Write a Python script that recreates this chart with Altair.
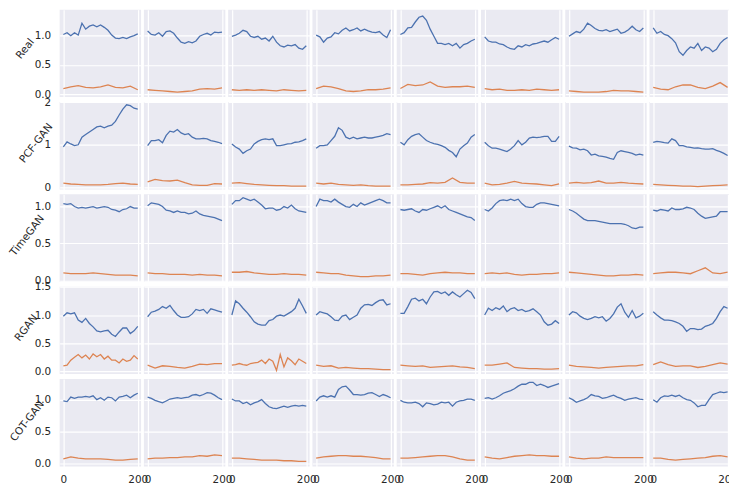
import altair as alt
import pandas as pd

# ---------------- data ----------------
T_MEAN = list(range(0, 201, 10))   # 21 sample times for the blue series
T_STD = list(range(0, 201, 20))    # 11 sample times for most orange series

MODELS = ["Real", "PCF-GAN", "TimeGAN", "RGAN", "COT-GAN"]

real_mean = [
    [1.01, 1.04, 0.99, 1.04, 1.0, 1.2, 1.1, 1.15, 1.17, 1.14, 1.17, 1.13, 1.08, 1.0, 0.95, 0.94, 0.96, 0.94, 0.97, 0.99, 1.02],
    [1.07, 1.01, 1.0, 1.04, 0.98, 1.06, 1.07, 1.03, 0.95, 0.88, 0.86, 0.89, 0.87, 0.9, 0.98, 1.01, 1.03, 1.0, 1.05, 1.04, 1.05],
    [0.98, 1.0, 1.03, 1.08, 1.06, 0.98, 0.96, 0.98, 0.93, 0.95, 0.9, 0.98, 0.88, 0.82, 0.8, 0.83, 0.82, 0.84, 0.78, 0.76, 0.82],
    [1.0, 0.97, 0.88, 0.95, 0.97, 1.04, 1.02, 1.08, 1.12, 1.07, 1.09, 1.12, 1.07, 1.1, 1.07, 1.05, 1.04, 1.06, 1.0, 0.96, 1.09],
    [1.01, 1.04, 1.12, 1.13, 1.22, 1.3, 1.32, 1.25, 1.1, 0.98, 0.86, 0.86, 0.84, 0.86, 0.82, 0.86, 0.78, 0.84, 0.86, 0.9, 0.93],
    [0.97, 0.9, 0.88, 0.88, 0.85, 0.84, 0.8, 0.77, 0.76, 0.82, 0.8, 0.84, 0.82, 0.85, 0.86, 0.88, 0.9, 0.88, 0.92, 0.96, 0.93],
    [0.98, 1.02, 1.06, 1.04, 1.1, 1.2, 1.16, 1.11, 1.08, 1.07, 1.09, 1.06, 1.08, 1.1, 1.03, 1.05, 1.09, 1.15, 1.09, 1.06, 1.12],
    [1.12, 1.03, 1.06, 1.01, 0.99, 0.94, 0.87, 0.72, 0.66, 0.74, 0.8, 0.78, 0.86, 0.74, 0.8, 0.78, 0.72, 0.76, 0.86, 0.92, 0.96],
]
real_std = [
    [0.10, 0.13, 0.15, 0.12, 0.11, 0.13, 0.16, 0.12, 0.11, 0.14, 0.08],
    [0.08, 0.07, 0.06, 0.05, 0.04, 0.05, 0.06, 0.09, 0.1, 0.09, 0.11],
    [0.08, 0.07, 0.08, 0.07, 0.08, 0.07, 0.06, 0.08, 0.07, 0.06, 0.07],
    [0.1, 0.14, 0.13, 0.1, 0.06, 0.05, 0.06, 0.08, 0.08, 0.09, 0.11],
    [0.1, 0.17, 0.15, 0.16, 0.21, 0.14, 0.12, 0.13, 0.13, 0.14, 0.12],
    [0.1, 0.08, 0.09, 0.07, 0.07, 0.08, 0.07, 0.09, 0.08, 0.07, 0.08],
    [0.06, 0.05, 0.04, 0.04, 0.04, 0.05, 0.07, 0.06, 0.06, 0.05, 0.04],
    [0.12, 0.09, 0.08, 0.13, 0.16, 0.16, 0.12, 0.1, 0.14, 0.2, 0.12],
]

pcf_mean = [
    [0.95, 1.07, 1.02, 0.98, 1.0, 1.18, 1.24, 1.3, 1.36, 1.42, 1.44, 1.4, 1.44, 1.46, 1.55, 1.7, 1.84, 1.94, 1.92, 1.86, 1.84],
    [0.98, 1.1, 1.1, 1.12, 1.05, 1.22, 1.32, 1.3, 1.36, 1.28, 1.24, 1.26, 1.18, 1.14, 1.14, 1.15, 1.14, 1.1, 1.08, 1.06, 1.03],
    [1.02, 0.95, 0.9, 0.8, 0.86, 0.9, 1.02, 1.08, 1.12, 1.14, 1.12, 1.14, 0.98, 0.98, 1.0, 1.02, 1.03, 1.06, 1.07, 1.1, 1.14],
    [0.92, 0.98, 0.98, 1.0, 1.1, 1.2, 1.4, 1.34, 1.18, 1.14, 1.18, 1.14, 1.16, 1.18, 1.16, 1.16, 1.18, 1.2, 1.22, 1.26, 1.24],
    [1.06, 1.0, 1.12, 1.2, 1.24, 1.26, 1.18, 1.1, 1.06, 1.03, 1.01, 0.98, 0.94, 0.87, 0.82, 0.72, 0.9, 0.98, 1.04, 1.18, 1.24],
    [1.06, 0.98, 0.92, 0.92, 0.9, 0.87, 0.84, 0.9, 0.98, 1.1, 1.0, 1.06, 1.16, 1.18, 1.17, 1.18, 1.2, 1.2, 1.08, 1.08, 1.2],
    [0.97, 0.93, 0.92, 0.88, 0.9, 0.86, 0.76, 0.78, 0.74, 0.73, 0.71, 0.68, 0.66, 0.82, 0.86, 0.84, 0.82, 0.8, 0.76, 0.78, 0.76],
    [1.06, 1.08, 1.07, 1.05, 1.04, 1.14, 1.1, 0.98, 0.98, 0.95, 0.94, 0.92, 0.93, 0.91, 0.9, 0.9, 0.91, 0.87, 0.84, 0.8, 0.75],
]
pcf_std = [
    [0.1, 0.08, 0.07, 0.06, 0.06, 0.06, 0.07, 0.09, 0.1, 0.08, 0.07],
    [0.13, 0.19, 0.16, 0.15, 0.17, 0.11, 0.06, 0.05, 0.05, 0.09, 0.08],
    [0.1, 0.11, 0.09, 0.07, 0.06, 0.05, 0.04, 0.04, 0.03, 0.03, 0.03],
    [0.1, 0.08, 0.1, 0.07, 0.06, 0.05, 0.06, 0.04, 0.03, 0.03, 0.03],
    [0.06, 0.06, 0.07, 0.08, 0.11, 0.1, 0.12, 0.22, 0.12, 0.1, 0.1],
    [0.1, 0.06, 0.07, 0.1, 0.14, 0.1, 0.09, 0.08, 0.06, 0.04, 0.08],
    [0.1, 0.12, 0.1, 0.11, 0.15, 0.1, 0.1, 0.12, 0.1, 0.09, 0.08],
    [0.07, 0.06, 0.05, 0.04, 0.03, 0.03, 0.02, 0.03, 0.04, 0.05, 0.06],
]

timegan_mean = [
    [1.04, 1.03, 1.04, 1.0, 0.98, 0.99, 0.98, 0.99, 1.0, 0.98, 0.99, 1.0, 0.99, 0.96, 0.95, 0.93, 0.96, 0.97, 1.0, 0.98, 0.98],
    [1.01, 1.05, 1.04, 1.03, 1.0, 0.95, 0.94, 0.92, 0.94, 0.92, 0.92, 0.9, 0.91, 0.94, 0.9, 0.88, 0.87, 0.86, 0.85, 0.83, 0.81],
    [1.03, 1.08, 1.08, 1.12, 1.1, 1.08, 1.1, 1.06, 1.02, 0.97, 0.98, 0.98, 0.95, 0.96, 1.0, 0.98, 1.02, 0.97, 0.94, 0.93, 0.92],
    [1.0, 1.1, 1.08, 1.08, 1.06, 1.1, 1.06, 1.03, 1.0, 0.99, 1.03, 1.0, 1.05, 1.02, 1.04, 1.06, 1.08, 1.1, 1.08, 1.05, 1.05],
    [0.96, 0.95, 0.96, 0.97, 0.94, 0.92, 0.96, 0.95, 0.97, 0.99, 1.01, 0.98, 1.01, 0.96, 0.94, 0.92, 0.9, 0.88, 0.86, 0.85, 0.81],
    [0.96, 0.94, 0.98, 1.04, 1.08, 1.09, 1.08, 1.1, 1.08, 1.1, 1.04, 1.0, 0.99, 0.99, 1.03, 1.05, 1.05, 1.04, 1.03, 1.02, 1.01],
    [0.96, 0.94, 0.91, 0.87, 0.83, 0.81, 0.81, 0.81, 0.8, 0.79, 0.78, 0.77, 0.77, 0.77, 0.77, 0.76, 0.74, 0.71, 0.7, 0.72, 0.72],
    [0.95, 0.94, 0.96, 0.95, 0.94, 0.98, 0.96, 0.96, 0.97, 0.99, 0.98, 0.96, 0.91, 0.87, 0.84, 0.85, 0.86, 0.87, 0.93, 0.93, 0.93],
]
timegan_std = [
    [0.1, 0.09, 0.09, 0.09, 0.1, 0.09, 0.08, 0.07, 0.07, 0.07, 0.06],
    [0.1, 0.09, 0.09, 0.08, 0.08, 0.08, 0.07, 0.08, 0.07, 0.07, 0.06],
    [0.11, 0.11, 0.12, 0.1, 0.09, 0.08, 0.08, 0.09, 0.08, 0.08, 0.07],
    [0.11, 0.1, 0.09, 0.09, 0.07, 0.06, 0.05, 0.05, 0.06, 0.06, 0.07],
    [0.09, 0.09, 0.08, 0.07, 0.09, 0.1, 0.11, 0.1, 0.1, 0.09, 0.09],
    [0.09, 0.1, 0.09, 0.1, 0.08, 0.07, 0.08, 0.08, 0.09, 0.09, 0.1],
    [0.11, 0.1, 0.09, 0.08, 0.07, 0.06, 0.06, 0.07, 0.07, 0.08, 0.07],
    [0.09, 0.1, 0.11, 0.11, 0.1, 0.09, 0.13, 0.17, 0.1, 0.09, 0.11],
]

rgan_mean = [
    [0.98, 1.04, 1.02, 1.04, 0.91, 0.87, 0.94, 0.85, 0.79, 0.72, 0.7, 0.72, 0.73, 0.66, 0.62, 0.7, 0.77, 0.77, 0.67, 0.72, 0.8],
    [0.97, 1.05, 1.07, 1.1, 1.15, 1.12, 1.17, 1.08, 1.0, 0.96, 0.96, 0.97, 1.02, 1.1, 1.08, 1.1, 1.03, 1.11, 1.09, 1.07, 1.05],
    [1.0, 1.25, 1.2, 1.12, 1.05, 0.97, 0.88, 0.84, 0.82, 0.82, 0.9, 0.92, 0.98, 1.0, 0.98, 1.02, 1.06, 1.12, 1.28, 1.16, 1.03],
    [1.0, 1.06, 1.04, 1.02, 0.97, 0.91, 0.9, 0.98, 1.0, 0.92, 0.96, 1.0, 1.12, 1.18, 1.19, 1.17, 1.22, 1.26, 1.27, 1.18, 1.2],
    [1.03, 1.03, 1.15, 1.28, 1.3, 1.25, 1.28, 1.2, 1.32, 1.41, 1.42, 1.38, 1.41, 1.35, 1.41, 1.36, 1.32, 1.38, 1.44, 1.4, 1.29],
    [1.0, 1.12, 1.08, 1.13, 1.1, 1.16, 1.06, 1.11, 1.13, 1.08, 1.1, 1.06, 1.08, 1.11, 1.06, 1.0, 0.88, 0.82, 0.84, 0.9, 0.85],
    [1.0, 1.06, 1.04, 0.98, 0.94, 0.92, 0.94, 0.97, 0.95, 0.97, 0.89, 0.94, 1.02, 1.14, 1.2, 1.05, 0.96, 1.08, 0.95, 0.98, 1.03],
    [1.06, 1.0, 0.95, 0.91, 0.91, 0.9, 0.88, 0.85, 0.8, 0.71, 0.76, 0.76, 0.74, 0.75, 0.8, 0.82, 0.85, 0.94, 1.06, 1.15, 1.12],
]
rgan_std = [
    [0.1, 0.11, 0.2, 0.25, 0.3, 0.24, 0.29, 0.22, 0.31, 0.26, 0.3, 0.22, 0.27, 0.2, 0.2, 0.15, 0.22, 0.18, 0.2, 0.28, 0.22],
    [0.11, 0.06, 0.1, 0.09, 0.07, 0.06, 0.09, 0.13, 0.12, 0.14, 0.14],
    [0.11, 0.12, 0.14, 0.12, 0.11, 0.14, 0.15, 0.16, 0.2, 0.14, 0.22, 0.18, 0.02, 0.3, 0.08, 0.24, 0.19, 0.12, 0.22, 0.18, 0.14],
    [0.11, 0.09, 0.1, 0.06, 0.07, 0.06, 0.05, 0.05, 0.04, 0.03, 0.03],
    [0.11, 0.1, 0.09, 0.1, 0.07, 0.08, 0.09, 0.1, 0.08, 0.07, 0.05],
    [0.11, 0.11, 0.13, 0.15, 0.07, 0.06, 0.05, 0.05, 0.04, 0.04, 0.05],
    [0.11, 0.09, 0.08, 0.07, 0.06, 0.07, 0.08, 0.09, 0.1, 0.1, 0.12],
    [0.12, 0.17, 0.12, 0.09, 0.1, 0.1, 0.07, 0.09, 0.12, 0.15, 0.13],
]

cot_mean = [
    [0.98, 0.97, 1.04, 1.02, 1.04, 1.04, 1.05, 1.04, 1.06, 1.0, 1.03, 0.99, 1.04, 1.03, 0.98, 1.04, 1.05, 1.07, 1.03, 1.07, 1.1],
    [1.04, 1.02, 0.99, 0.97, 0.95, 0.98, 1.01, 1.02, 1.03, 1.02, 1.03, 1.04, 1.07, 1.08, 1.06, 1.08, 1.11, 1.1, 1.07, 1.03, 1.0],
    [1.01, 0.98, 0.98, 0.94, 0.96, 0.92, 0.95, 0.97, 1.0, 0.94, 0.89, 0.87, 0.86, 0.88, 0.9, 0.88, 0.9, 0.91, 0.9, 0.91, 0.9],
    [0.98, 1.04, 1.06, 1.04, 1.06, 1.04, 1.16, 1.2, 1.21, 1.15, 1.08, 1.08, 1.07, 1.08, 1.1, 1.11, 1.08, 1.05, 1.08, 1.06, 1.03],
    [0.99, 0.96, 0.95, 0.95, 0.96, 0.94, 0.89, 0.95, 0.94, 0.92, 0.93, 0.96, 0.95, 0.96, 0.9, 0.96, 0.98, 0.99, 1.01, 1.01, 0.99],
    [1.02, 1.03, 1.01, 1.03, 1.06, 1.1, 1.12, 1.14, 1.17, 1.21, 1.24, 1.24, 1.27, 1.27, 1.22, 1.24, 1.22, 1.19, 1.21, 1.23, 1.25],
    [1.03, 1.0, 0.96, 0.98, 1.0, 1.03, 1.08, 1.06, 1.05, 1.02, 1.03, 1.05, 1.07, 1.04, 1.02, 0.99, 1.01, 1.02, 1.03, 1.01, 1.0],
    [1.0, 0.96, 1.03, 1.06, 1.05, 1.07, 1.05, 1.07, 1.03, 1.0, 0.99, 0.95, 0.89, 0.91, 0.91, 1.0, 1.08, 1.1, 1.12, 1.11, 1.12],
]
cot_std = [
    [0.08, 0.11, 0.09, 0.08, 0.08, 0.08, 0.07, 0.06, 0.06, 0.07, 0.08],
    [0.08, 0.09, 0.09, 0.1, 0.1, 0.11, 0.11, 0.13, 0.12, 0.14, 0.13],
    [0.09, 0.09, 0.08, 0.07, 0.06, 0.06, 0.06, 0.05, 0.05, 0.04, 0.04],
    [0.09, 0.11, 0.12, 0.13, 0.13, 0.12, 0.12, 0.11, 0.1, 0.08, 0.08],
    [0.09, 0.09, 0.1, 0.11, 0.12, 0.13, 0.13, 0.11, 0.08, 0.06, 0.06],
    [0.11, 0.09, 0.08, 0.1, 0.12, 0.13, 0.14, 0.13, 0.13, 0.12, 0.12],
    [0.11, 0.09, 0.08, 0.09, 0.09, 0.11, 0.1, 0.1, 0.1, 0.1, 0.1],
    [0.09, 0.09, 0.07, 0.06, 0.07, 0.08, 0.09, 0.1, 0.12, 0.13, 0.11],
]

ROW_DATA = {
    "Real": (real_mean, real_std),
    "PCF-GAN": (pcf_mean, pcf_std),
    "TimeGAN": (timegan_mean, timegan_std),
    "RGAN": (rgan_mean, rgan_std),
    "COT-GAN": (cot_mean, cot_std),
}

Y_TICKS = {
    "Real": [0.0, 0.5, 1.0],
    "PCF-GAN": [0, 1, 2],
    "TimeGAN": [0.0, 0.5, 1.0],
    "RGAN": [0.0, 0.5, 1.0, 1.5],
    "COT-GAN": [0.0, 0.5, 1.0],
}

# ---------------- styling / layout ----------------
Y_DOMAIN = {
    "Real": [-0.043, 1.428],
    "PCF-GAN": [-0.047, 2.005],
    "TimeGAN": [-0.019, 1.165],
    "RGAN": [-0.048, 1.502],
    "COT-GAN": [-0.039, 1.32],
}
Y_FORMAT = {"Real": ".1f", "PCF-GAN": ".0f", "TimeGAN": ".1f", "RGAN": ".1f", "COT-GAN": ".1f"}
TITLE_POS = {
    "Real": (-35, 39),
    "PCF-GAN": (-24, 41),
    "TimeGAN": (-33, 41),
    "RGAN": (-34, 41),
    "COT-GAN": (-33, 42),
}
BLUE = "#4C72B0"
ORANGE = "#DD8452"
BG = "#EAEAF2"
TXT = "#262626"
FONT = "DejaVu Sans"
PANEL_W, PANEL_H = 82, 88

# ---------------- long table ----------------
records = []
for r, name in enumerate(MODELS):
    means, stds = ROW_DATA[name]
    for c in range(8):
        for t, v in zip(T_MEAN, means[c]):
            records.append({"r": r, "c": c, "s": "mean", "t": t, "v": v})
        ts = T_MEAN if len(stds[c]) == len(T_MEAN) else T_STD
        for t, v in zip(ts, stds[c]):
            records.append({"r": r, "c": c, "s": "std", "t": t, "v": v})
df = pd.DataFrame(records)

panels = []
for r, name in enumerate(MODELS):
    for c in range(8):
        if c == 0:
            tx, ty = TITLE_POS[name]
            yaxis = alt.Axis(
                values=Y_TICKS[name], format=Y_FORMAT[name], labels=True,
                ticks=False, tickSize=0, domain=False, grid=True,
                gridColor="white", gridWidth=1.2, labelPadding=9,
                labelFontSize=10.5, labelColor=TXT, labelFont=FONT,
                title=name, titleAngle=308, titleX=tx, titleY=ty,
                titleAlign="center", titleBaseline="middle",
                titleFontSize=10.5, titleFontWeight="normal",
                titleColor=TXT, titleFont=FONT,
            )
        else:
            yaxis = alt.Axis(
                values=Y_TICKS[name], labels=False, ticks=False, domain=False,
                grid=True, gridColor="white", gridWidth=1.2, title="",
            )
        if r == len(MODELS) - 1:
            xaxis = alt.Axis(
                values=[0, 200], format="d", labels=True, ticks=False, tickSize=0,
                domain=False, grid=True, gridColor="white", gridWidth=1.2,
                labelPadding=8, labelFontSize=10.5, labelColor=TXT,
                labelFont=FONT, labelFlush=False, title="",
            )
        else:
            xaxis = alt.Axis(
                values=[0, 200], labels=False, ticks=False, domain=False,
                grid=True, gridColor="white", gridWidth=1.2, title="",
            )
        base = alt.Chart().encode(
            x=alt.X("t:Q", scale=alt.Scale(domain=[-9.95, 208.95], nice=False, zero=False), axis=xaxis),
            y=alt.Y("v:Q", scale=alt.Scale(domain=Y_DOMAIN[name], nice=False, zero=False), axis=yaxis),
        )
        mean_line = base.mark_line(color=BLUE, strokeWidth=1.3).transform_filter(
            f"datum.r == {r} && datum.c == {c} && datum.s == 'mean'"
        )
        std_line = base.mark_line(color=ORANGE, strokeWidth=1.3).transform_filter(
            f"datum.r == {r} && datum.c == {c} && datum.s == 'std'"
        )
        layers = [mean_line, std_line]
        if r == 0 and c == 0:
            anchor = alt.Chart(pd.DataFrame({"a": [0]})).mark_rule(strokeOpacity=0).encode(
                x=alt.value(-51.5), y=alt.value(10), y2=alt.value(20)
            )
            layers.append(anchor)
        panels.append(alt.layer(*layers).properties(width=PANEL_W, height=PANEL_H))

chart = alt.concat(
    *panels, columns=8, data=df,
    spacing={"row": 5, "column": 2.85}, bounds="flush",
    padding={"left": 0, "top": 0, "right": -9, "bottom": 0},
    background="white",
).configure_view(fill=BG, strokeWidth=0)

chart.save("out.html", embed_options={"renderer": "svg", "actions": False})
